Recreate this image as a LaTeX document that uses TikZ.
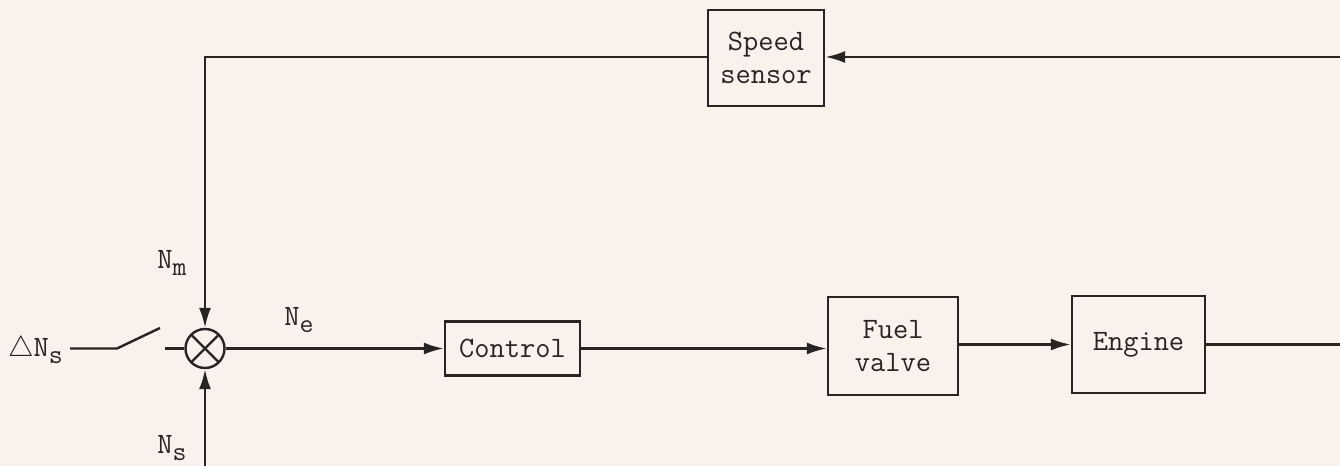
\documentclass[tikz,border=0pt]{standalone}
\usetikzlibrary{arrows.meta}
\newcommand\lowsub[1]{\raisebox{-0.6ex}{\fontsize{13.5}{13.5}\selectfont #1}}
\definecolor{paper}{RGB}{248,241,236}
\definecolor{ink}{RGB}{40,36,36}
\begin{document}
\begin{tikzpicture}[x=0.5pt,y=-0.5pt,
  line width=1.2pt, draw=ink, text=ink,
  every node/.style={font=\fontsize{14.8}{16.5}\selectfont\ttfamily},
  blockbox/.style={draw=ink,line width=1.2pt,minimum width=#1*0.5pt,align=center,inner sep=0pt},
  arr/.style={-{Latex[length=10pt,width=6pt]}},
  lbl/.style={inner sep=0pt}]
\fill[paper] (0,0) rectangle (1340,466);
\useasboundingbox (0,0) rectangle (1340,466);

\node[blockbox=116,minimum height=48pt] (sensor) at (766,58) {Speed\\sensor};
\node[blockbox=135,minimum height=27pt] (control) at (512.5,348.5) {Control};
\node[blockbox=130,minimum height=49pt] (valve) at (893,346) {Fuel\\valve};
\node[blockbox=133,minimum height=48.5pt] (engine) at (1138.5,344.5) {Engine};

\node[circle,draw=ink,line width=1.2pt,minimum size=19.5pt,inner sep=0pt] (sum) at (205,348.5) {};
\draw ([shift={(45:9.75pt)}]sum.center) -- ([shift={(225:9.75pt)}]sum.center);
\draw ([shift={(135:9.75pt)}]sum.center) -- ([shift={(-45:9.75pt)}]sum.center);

\coordinate (rtop) at (1340,57);
\coordinate (rbot) at (1340,344.5);
\coordinate (corner) at (205,57);
\coordinate (bot) at (205,466);
\coordinate (sw0) at (70,348.5);
\coordinate (sw1) at (117,348.5);
\coordinate (sw2) at (160,328);
\coordinate (sw3) at (165,348.5);

\draw[arr] (rtop) -- (sensor.east |- rtop);
\draw[arr] (sensor.west |- corner) -- (corner) -- (sum.north);
\draw[arr] (bot) -- (sum.south);
\draw (sw0) -- (sw1) -- (sw2);
\draw (sw3) -- (sum.west);
\draw[arr] (sum.east) -- (control.west);
\draw[arr] (control.east) -- (valve.west |- control.east);
\draw[arr] (valve.east |- engine.west) -- (engine.west);
\draw (engine.east) -- (rbot);

\node[lbl] (nm) at (172,263) {N\lowsub{m}};
\node[lbl] (ns) at (172,448) {N\lowsub{s}};
\node[lbl] (ne) at (299,320) {N\lowsub{e}};
\node[lbl,anchor=east] (dns) at (64,350) {$\triangle$N\lowsub{s}};
\end{tikzpicture}
\end{document}
